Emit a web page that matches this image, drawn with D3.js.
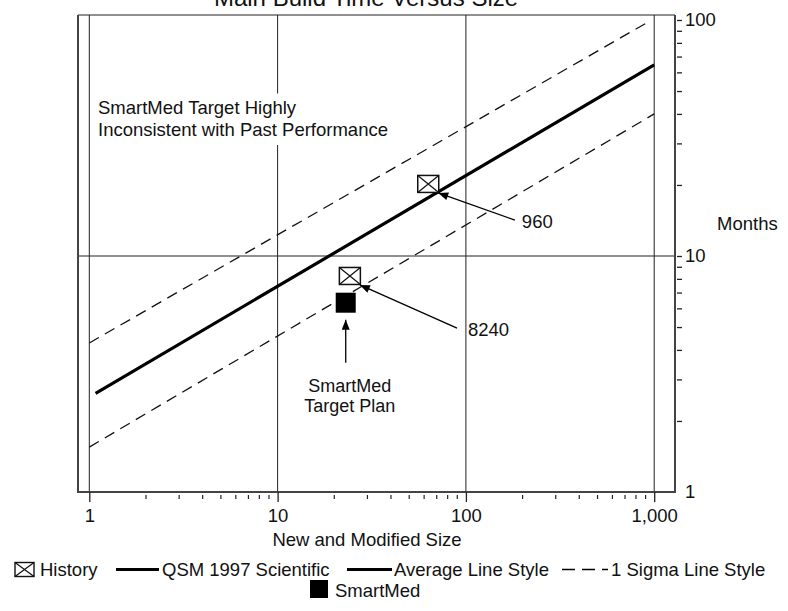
<!DOCTYPE html>
<html>
<head>
<meta charset="utf-8">
<script src="https://cdnjs.cloudflare.com/ajax/libs/d3/7.8.5/d3.min.js"></script>
<style>
  body { margin: 0; background: #fff; }
  text { font-family: "Liberation Sans", Arial, Helvetica, sans-serif; fill: #111; }
</style>
</head>
<body>
<svg id="chart"></svg>
<script>
// axis ticks
const xTicks = [1, 10, 100, 1000];
const xTickLabels = ["1", "10", "100", "1,000"];
const yTicks = [1, 10, 100];
const yTickLabels = ["1", "10", "100"];

// trend lines (size, months)
const avgSize = [1.08, 1000];
const avgMonths = [2.62, 64.5];
const upperSize = [1, 927];
const upperMonths = [4.28, 98];
const lowerSize = [1, 1000];
const lowerMonths = [1.55, 40];

// history projects
const historyNames = ["960", "8240"];
const historySize = [63.1, 24.2];
const historyMonths = [20.2, 8.23];
const historyLabelSize = [182, 89.7];
const historyLabelMonths = [14.2, 4.95];

// SmartMed target
const smartSize = [23.0];
const smartMonths = [6.34];

const title = "Main Build Time Versus Size";
const xTitle = "New and Modified Size";
const yTitle = "Months";
const note = ["SmartMed Target Highly", "Inconsistent with Past Performance"];
const smartNote = ["SmartMed", "Target Plan"];
const legendNames = ["History", "QSM 1997 Scientific", "Average Line Style", "1 Sigma Line Style", "SmartMed"];

const width = 788;
const height = 611;
const frame = { left: 78, right: 675, top: 15, bottom: 492 };
const fontSize = 18.5;

const svg = d3.select("#chart").attr("width", width).attr("height", height);

const x = d3.scaleLog().domain([1, 1000]).range([89.3, 654.2]);
const y = d3.scaleLog().domain([1, 100]).range([492, 20]);

let minor = (ticks) => {
  let out = [];
  ticks.forEach((t) => {
    for (let k = 2; k <= 9; k++) out.push(t * k);
  });
  return out;
};

// title (partly off the top of the picture, as in the source)
svg.append("text")
  .attr("x", 366).attr("y", 6)
  .attr("text-anchor", "middle")
  .style("font-size", "24px")
  .text(title);

// grid
svg.append("g").selectAll("line")
  .data(xTicks)
  .enter().append("line")
  .attr("x1", (d) => x(d)).attr("x2", (d) => x(d))
  .attr("y1", frame.top).attr("y2", frame.bottom)
  .attr("stroke", "#222").attr("stroke-width", 1);

svg.append("line")
  .attr("x1", frame.left).attr("x2", frame.right)
  .attr("y1", y(10)).attr("y2", y(10))
  .attr("stroke", "#222").attr("stroke-width", 1);

// frame
svg.append("line").attr("x1", frame.left).attr("x2", frame.right)
  .attr("y1", frame.top).attr("y2", frame.top)
  .attr("stroke", "#222").attr("stroke-width", 1.2);
svg.append("path")
  .attr("d", `M${frame.left},${frame.top}V${frame.bottom}H${frame.right}V${frame.top}`)
  .attr("fill", "none").attr("stroke", "#444").attr("stroke-width", 2);

// x axis
let xAxis = d3.axisBottom(x)
  .tickValues(xTicks)
  .tickSize(10)
  .tickPadding(7)
  .tickFormat((d, i) => xTickLabels[i]);
let gx = svg.append("g")
  .attr("transform", "translate(0," + frame.bottom + ")")
  .call(xAxis);
gx.select(".domain").remove();
gx.selectAll("line").attr("stroke", "#222").attr("stroke-width", 1.3);
gx.selectAll("text").style("font-size", fontSize + "px").attr("fill", "#111");

let xMinor = minor([1, 10, 100]);
svg.append("g").selectAll("line")
  .data(xMinor)
  .enter().append("line")
  .attr("x1", (d) => x(d)).attr("x2", (d) => x(d))
  .attr("y1", frame.bottom + 3).attr("y2", frame.bottom + 7)
  .attr("stroke", "#222").attr("stroke-width", 1.2);

svg.append("text")
  .attr("x", 367).attr("y", 546)
  .attr("text-anchor", "middle")
  .style("font-size", fontSize + "px")
  .text(xTitle);

// y axis on the right
let yAxis = d3.axisRight(y)
  .tickValues(yTicks.concat(minor([1, 10]).filter((d) => d < 100)))
  .tickSize(5)
  .tickPadding(3)
  .tickFormat((d) => {
    let i = yTicks.indexOf(d);
    return i >= 0 ? yTickLabels[i] : "";
  });
let gy = svg.append("g")
  .attr("transform", "translate(" + (frame.right + 2) + ",0)")
  .call(yAxis);
gy.select(".domain").remove();
gy.selectAll("line").attr("stroke", "#222").attr("stroke-width", 1.3);
gy.selectAll("text").style("font-size", fontSize + "px").attr("fill", "#111");
gy.selectAll(".tick").filter((d) => d === 1).select("line").remove();

svg.append("text")
  .attr("x", 717).attr("y", 230)
  .style("font-size", fontSize + "px")
  .text(yTitle);

// note box with white background
let noteG = svg.append("g");
let noteBg = noteG.append("rect").attr("fill", "#fff");
let noteT = noteG.append("text").style("font-size", fontSize + "px");
note.forEach((s, i) => {
  noteT.append("tspan").attr("x", 98).attr("y", 113.5 + i * 22.5).text(s);
});
let bb = noteT.node().getBBox();
noteBg.attr("x", bb.x - 5).attr("y", bb.y - 3)
  .attr("width", bb.width + 8).attr("height", bb.height + 8);

// trend lines
let line = d3.line().x((d) => x(d[0])).y((d) => y(d[1]));

svg.append("path")
  .datum(d3.zip(upperSize, upperMonths))
  .attr("d", line)
  .attr("fill", "none").attr("stroke", "#111")
  .attr("stroke-width", 1.3).attr("stroke-dasharray", "11,7");

svg.append("path")
  .datum(d3.zip(lowerSize, lowerMonths))
  .attr("d", line)
  .attr("fill", "none").attr("stroke", "#111")
  .attr("stroke-width", 1.3).attr("stroke-dasharray", "11,7");

svg.append("path")
  .datum(d3.zip(avgSize, avgMonths))
  .attr("d", line)
  .attr("fill", "none").attr("stroke", "#000")
  .attr("stroke-width", 3.2);

// arrow marker
svg.append("defs").append("marker")
  .attr("id", "arrow")
  .attr("viewBox", "0 0 10 8")
  .attr("refX", 10).attr("refY", 4)
  .attr("markerWidth", 11).attr("markerHeight", 8)
  .attr("markerUnits", "userSpaceOnUse")
  .attr("orient", "auto")
  .append("path").attr("d", "M0,0L10,4L0,8Z").attr("fill", "#000");

// history markers
const boxW = 21, boxH = 17;
let hist = svg.append("g").selectAll("g")
  .data(historyNames)
  .enter().append("g")
  .attr("transform", (d, i) => "translate(" + x(historySize[i]) + "," + y(historyMonths[i]) + ")");
hist.append("rect")
  .attr("x", -boxW / 2).attr("y", -boxH / 2)
  .attr("width", boxW).attr("height", boxH)
  .attr("fill", "#fff").attr("stroke", "#111").attr("stroke-width", 1.5);
hist.append("path")
  .attr("d", `M${-boxW / 2},${-boxH / 2}L${boxW / 2},${boxH / 2}M${boxW / 2},${-boxH / 2}L${-boxW / 2},${boxH / 2}`)
  .attr("stroke", "#111").attr("stroke-width", 1.2);

// history labels and arrows
const labelGap = [7, 11];
historyNames.forEach((name, i) => {
  let tx = x(historyLabelSize[i]);
  let ty = y(historyLabelMonths[i]);
  svg.append("line")
    .attr("x1", tx).attr("y1", ty)
    .attr("x2", x(historySize[i]) + boxW / 2 - 0.5)
    .attr("y2", y(historyMonths[i]) + boxH / 2 + 0.5)
    .attr("stroke", "#000").attr("stroke-width", 1.3)
    .attr("marker-end", "url(#arrow)");
  svg.append("text")
    .attr("x", tx + labelGap[i]).attr("y", ty + 8)
    .style("font-size", fontSize + "px")
    .text(name);
});

// SmartMed target
const sq = 20;
svg.append("g").selectAll("rect")
  .data(smartSize)
  .enter().append("rect")
  .attr("x", (d) => x(d) - sq / 2)
  .attr("y", (d, i) => y(smartMonths[i]) - sq / 2)
  .attr("width", sq).attr("height", sq)
  .attr("fill", "#000");

let sx = x(smartSize[0]);
let sy = y(smartMonths[0]);
svg.append("line")
  .attr("x1", sx).attr("x2", sx)
  .attr("y1", sy + 60).attr("y2", sy + sq / 2 + 7)
  .attr("stroke", "#000").attr("stroke-width", 1.3)
  .attr("marker-end", "url(#arrow)");
smartNote.forEach((s, i) => {
  svg.append("text")
    .attr("x", sx + 4).attr("y", sy + 89 + i * 20.5)
    .attr("text-anchor", "middle")
    .style("font-size", "18px")
    .text(s);
});

// legend
const legendY = 569.5;
let lg = svg.append("g");

lg.append("rect").attr("x", 15).attr("y", legendY - 7).attr("width", 19).attr("height", 14)
  .attr("fill", "#fff").attr("stroke", "#111").attr("stroke-width", 1.4);
lg.append("path")
  .attr("d", `M15,${legendY - 7}L34,${legendY + 7}M34,${legendY - 7}L15,${legendY + 7}`)
  .attr("stroke", "#111").attr("stroke-width", 1.2);

let legendLines = [
  { x1: 116, x2: 159, w: 3.2, dash: null },
  { x1: 347, x2: 392, w: 3.2, dash: null },
  { x1: 562, x2: 608, w: 1.4, dash: "13,7" },
];
legendLines.forEach((l) => {
  lg.append("line")
    .attr("x1", l.x1).attr("x2", l.x2)
    .attr("y1", legendY).attr("y2", legendY)
    .attr("stroke", "#000").attr("stroke-width", l.w)
    .attr("stroke-dasharray", l.dash);
});

let legendTextX = [40, 162, 394, 611];
legendTextX.forEach((lx, i) => {
  lg.append("text")
    .attr("x", lx).attr("y", legendY + 6.5)
    .style("font-size", fontSize + "px")
    .text(legendNames[i]);
});

lg.append("rect").attr("x", 310).attr("y", 580).attr("width", 18).attr("height", 18).attr("fill", "#000");
lg.append("text")
  .attr("x", 335).attr("y", 596.5)
  .style("font-size", fontSize + "px")
  .text(legendNames[4]);
</script>
</body>
</html>
